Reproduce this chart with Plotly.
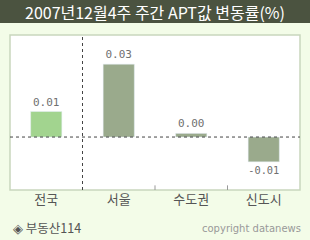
import plotly.graph_objects as go

categories = ["전국", "서울", "수도권", "신도시"]
values = [0.0105, 0.030, 0.0015, -0.0102]
labels = ["0.01", "0.03", "0.00", "-0.01"]
colors = ["#a2d48f", "#9aaa8c", "#9aaa8c", "#9aaa8c"]

W, H = 310, 240
L, R, T, B = 10, 10, 35, 50
pw, ph = W - L - R, H - T - B

def px(x):
    return (x - L) / pw

def py(y):
    return (H - B - y) / ph

fig = go.Figure()
fig.add_trace(go.Bar(
    x=list(range(4)), y=values, marker_color=colors, width=0.43,
    text=labels, textposition="outside", cliponaxis=False,
    textfont=dict(family="DejaVu Sans Mono", size=11, color="#707070"),
    hoverinfo="skip",
))

shapes = [
    dict(type="rect", xref="paper", yref="paper", x0=px(0), x1=px(W), y0=py(23), y1=py(0),
         fillcolor="#4b5340", line_width=0, layer="below"),
    dict(type="rect", xref="paper", yref="paper", x0=0, x1=1, y0=0, y1=1,
         line=dict(color="#c9d6bd", width=1.5), fillcolor="rgba(0,0,0,0)"),
    dict(type="line", xref="paper", yref="y", x0=0, x1=1, y0=0, y1=0,
         line=dict(color="#444444", width=1, dash="dot")),
    dict(type="line", xref="x", yref="paper", x0=0.5, x1=0.5, y0=0, y1=1,
         line=dict(color="#444444", width=1, dash="dot")),
]
for xb in [1.5, 2.5]:
    shapes.append(dict(type="line", xref="x", yref="paper", x0=xb, x1=xb, y0=0, y1=0.03,
                       line=dict(color="#999999", width=1)))

annotations = [
    dict(text="2007년12월4주 주간 APT값 변동률(%)", xref="paper", yref="paper",
         x=0.5, y=py(12), xanchor="center", yanchor="middle", showarrow=False,
         font=dict(family="Noto Sans CJK KR", size=16, color="white")),
    dict(text="◈ 부동산114", xref="paper", yref="paper", x=px(11), y=py(227),
         xanchor="left", yanchor="middle", showarrow=False,
         font=dict(family="Noto Sans CJK KR", size=12.5, color="#555555")),
    dict(text="copyright datanews", xref="paper", yref="paper", x=px(303), y=py(228),
         xanchor="right", yanchor="middle", showarrow=False,
         font=dict(family="DejaVu Sans", size=10, color="#999999")),
]

fig.update_layout(
    width=W, height=H, margin=dict(l=L, r=R, t=T, b=B, pad=0),
    paper_bgcolor="#f3fce8", plot_bgcolor="white",
    showlegend=False, shapes=shapes, annotations=annotations,
    xaxis=dict(tickmode="array", tickvals=list(range(4)), ticktext=categories,
               range=[-0.5, 3.5], showgrid=False, zeroline=False, showline=False,
               tickfont=dict(family="Noto Sans CJK KR", size=13, color="#555555"),
               ticklen=0, ticks=""),
    yaxis=dict(range=[-0.0218, 0.042], visible=False, showgrid=False, zeroline=False),
)
fig.write_html("out.html")
